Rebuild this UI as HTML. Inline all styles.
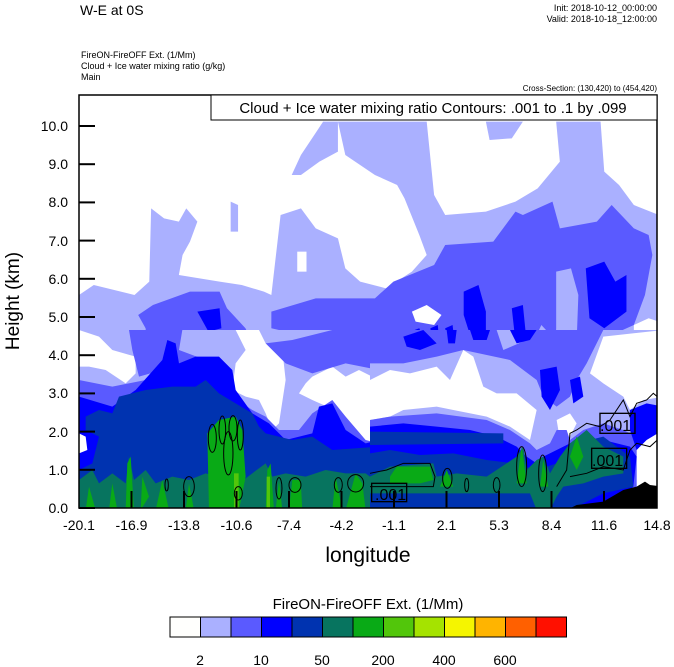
<!DOCTYPE html>
<html><head><meta charset="utf-8"><style>
body{margin:0;background:#fff;}
svg{display:block;font-family:"Liberation Sans",sans-serif;}
</style></head><body>
<svg width="674" height="667" viewBox="0 0 674 667">
<defs><clipPath id="pc"><rect x="79" y="95" width="578" height="413"/></clipPath>
<clipPath id="up"><rect x="79" y="95" width="578" height="236"/></clipPath></defs>
<rect width="674" height="667" fill="#fff"/>
<g clip-path="url(#pc)">
<g clip-path="url(#up)">
<g transform="translate(79,95) scale(0.3699,0.3333)">
<polygon fill="#aab0ff" points="0,600 40,570 150,600 190,560 195,340 230,370 270,380 290,340 320,380 300,440 280,480 270,540 380,560 440,570 500,590 520,600 545,360 600,340 640,400 700,430 720,520 760,560 830,580 900,530 940,480 920,420 880,310 860,270 800,240 720,180 700,80 940,80 960,300 990,360 1100,350 1180,320 1240,280 1300,200 1290,80 1410,80 1420,230 1460,270 1500,330 1568,360 1568,900 0,900"/>
<polygon fill="#aab0ff" points="575,240 600,180 630,130 660,80 700,80 700,170 650,200 600,240"/>
<polygon fill="#aab0ff" points="1100,80 1200,80 1170,130 1110,135"/>
<polygon fill="#aab0ff" points="410,320 430,330 430,410 410,410"/>
<polygon fill="#fff" points="590,470 615,470 615,530 590,530"/>
<polygon fill="#5a5aff" points="160,660 200,630 300,590 380,590 400,640 450,700 490,790 480,850 440,900 170,900 190,800 180,700"/>
<polygon fill="#5a5aff" points="520,650 640,610 800,610 850,560 960,510 990,450 1120,440 1180,350 1200,360 1280,320 1300,400 1400,380 1440,330 1500,400 1540,420 1550,480 1530,600 1500,690 1440,720 1420,780 1380,800 1340,760 1300,750 1250,690 1220,760 1160,780 1120,840 1080,770 1040,760 980,770 900,790 800,800 700,780 640,730 520,700"/>
<polygon fill="#aab0ff" points="1290,530 1330,520 1350,600 1340,900 1280,900 1290,700"/>
<polygon fill="#fff" points="1500,690 1540,670 1568,680 1568,900 1500,900"/>
<polygon fill="#fff" points="900,650 940,630 980,660 960,690 910,680"/>
<g fill="#0000ff">
<polygon points="320,650 380,640 385,700 350,710"/>
<polygon points="1040,590 1080,570 1100,650 1100,720 1060,730 1040,660"/>
<polygon points="1170,640 1200,630 1210,740 1180,740"/>
<polygon points="1370,520 1420,500 1450,560 1480,540 1480,650 1420,700 1380,670"/>
<polygon points="870,720 920,700 940,760 880,770"/>
<polygon points="990,700 1010,690 1015,740 995,740"/>
<polygon points="950,700 970,690 975,760 955,760"/>
</g>
</g>
</g>
<!-- lower left -->
<g transform="translate(79,330) scale(0.3333)">
<rect x="0" y="0" width="880" height="540" fill="#aab0ff"/>
<g fill="#fff">
<polygon points="0,0 60,20 100,60 170,80 170,130 140,160 80,120 30,110 0,110"/>
<polygon points="470,0 540,0 560,40 610,60 620,150 600,280 580,300 560,250 540,210 500,200 460,180 470,100 500,60"/>
<polygon points="700,140 760,110 800,140 840,120 900,150 900,340 840,330 790,250 700,210 660,190 680,160"/>
</g>
<polygon fill="#5a5aff" points="560,40 640,30 760,0 900,0 900,120 800,100 700,130 620,100"/>
<polygon fill="#5a5aff" points="150,0 310,0 300,60 250,120 180,140 160,60"/>
<polygon fill="#5a5aff" points="0,150 100,170 200,150 250,120 260,40 300,60 380,90 440,140 460,200 520,240 560,260 600,300 660,300 700,250 760,210 800,260 860,330 900,340 900,540 0,540"/>
<polygon fill="#0000ff" points="0,200 100,230 170,180 250,90 265,30 290,40 300,100 350,80 420,80 460,120 470,180 520,250 570,280 620,330 700,310 720,230 760,220 800,300 860,340 900,330 900,540 0,540"/>
<polygon fill="#0033b0" points="20,260 60,240 100,250 120,200 200,180 280,170 350,170 380,150 420,190 470,220 520,250 540,290 560,310 640,330 700,320 760,360 900,350 900,540 0,540 0,420 40,400 60,320 20,300"/>
<polygon fill="#fff" points="0,310 20,320 25,360 0,370"/>
<polygon fill="#07745f" points="0,450 40,420 60,460 100,430 140,460 150,380 165,450 200,420 230,460 280,440 330,450 380,430 420,440 460,420 480,460 520,430 560,400 580,440 620,430 680,440 740,420 800,430 860,430 900,460 900,540 0,540"/>
<g fill="#09aa16">
<polygon points="140,540 145,400 155,380 165,540"/>
<polygon points="185,540 190,440 210,500"/>
<polygon points="230,540 250,450 270,540"/>
<polygon points="320,540 330,460 345,540"/>
<polygon points="390,540 385,310 420,270 470,260 490,300 500,440 480,540"/>
<polygon points="560,540 565,420 575,400 585,540"/>
<polygon points="590,540 600,450 610,540"/>
<polygon points="630,540 640,450 665,450 670,540"/>
<polygon points="760,540 770,440 790,540"/>
<polygon points="800,540 830,430 850,460 860,540"/>
<polygon points="20,540 30,470 50,540"/>
<polygon points="90,540 100,460 115,540"/>
</g>
<rect x="465" y="430" width="14" height="110" fill="#52c60b"/>
<rect x="563" y="440" width="10" height="100" fill="#52c60b"/>
<g fill="none" stroke="#000" stroke-width="3">
<ellipse cx="400" cy="325" rx="12" ry="42"/><ellipse cx="430" cy="300" rx="10" ry="42"/><ellipse cx="462" cy="295" rx="12" ry="38"/><ellipse cx="484" cy="315" rx="9" ry="45"/><ellipse cx="448" cy="370" rx="14" ry="65"/>
<ellipse cx="330" cy="470" rx="16" ry="30"/><ellipse cx="263" cy="465" rx="5" ry="18"/><ellipse cx="600" cy="475" rx="9" ry="32"/><ellipse cx="648" cy="465" rx="18" ry="22"/><ellipse cx="778" cy="465" rx="12" ry="22"/><ellipse cx="830" cy="460" rx="24" ry="26"/><ellipse cx="478" cy="490" rx="12" ry="20"/>
</g>
</g>
<!-- lower right -->
<g transform="translate(370,330) scale(0.3333)">
<rect x="0" y="0" width="880" height="540" fill="#aab0ff"/>
<polygon fill="#5a5aff" points="0,0 380,0 400,60 470,30 500,0 700,0 650,100 620,150 600,200 560,230 520,200 500,150 420,90 280,60 200,80 100,100 0,100"/>
<g fill="#0000ff">
<polygon points="100,20 160,0 200,40 150,60 110,50"/>
<polygon points="230,0 260,0 255,40 235,40"/>
<polygon points="300,0 360,0 350,30 310,30"/>
<polygon points="420,0 500,0 480,30 440,40"/>
<polygon points="510,120 560,110 570,180 540,240 515,200"/>
<polygon points="600,150 630,140 640,200 610,220"/>
</g>
<g fill="#fff">
<polygon points="0,150 60,120 120,130 200,110 240,150 280,60 310,80 340,170 380,190 440,190 500,240 480,330 420,290 350,260 250,240 200,230 100,240 60,260 0,270"/>
<polygon points="700,20 880,0 880,200 820,210 780,240 760,200 700,160 660,130"/>
<polygon points="800,300 840,280 880,300 880,480 820,460 800,470"/>
<polygon points="560,270 600,250 620,280 600,320 570,330"/>
</g>
<polygon fill="#5a5aff" points="0,270 60,260 200,250 350,270 420,300 480,340 500,360 540,340 560,300 590,300 600,330 640,300 700,280 760,300 800,320 800,470 760,540 0,540"/>
<polygon fill="#0000ff" points="780,240 830,220 880,230 880,300 830,330 800,360 780,300"/>
<polygon fill="#0000ff" points="0,290 100,280 200,290 300,300 380,320 440,350 470,380 500,400 520,380 560,360 600,340 620,330 700,330 780,350 800,380 790,470 760,500 700,540 0,540"/>
<polygon fill="#0033b0" points="0,305 400,310 400,340 0,345"/>
<polygon fill="#0033b0" points="0,370 60,360 150,375 250,370 350,390 430,400 500,420 560,400 600,380 620,340 700,320 780,380 790,470 700,490 600,540 0,540"/>
<polygon fill="#07745f" points="0,440 60,410 190,400 200,440 260,430 350,440 440,380 460,350 470,420 500,390 520,380 540,430 570,380 600,340 650,300 700,350 760,380 760,430 700,440 640,460 580,470 560,500 540,540 500,540 480,490 300,490 0,490"/>
<g fill="#09aa16">
<polygon points="60,440 80,410 180,410 190,450 150,460 60,460"/>
<polygon points="210,470 230,420 250,470"/>
<polygon points="440,460 455,350 470,460"/>
<polygon points="510,470 520,390 535,470"/>
<polygon points="600,380 620,320 640,380 620,420"/>
</g>
<polygon fill="#000" points="590,540 620,525 700,515 760,480 800,470 825,455 840,465 880,470 880,540"/>
<g fill="none" stroke="#000" stroke-width="3">
<polyline points="0,430 50,420 100,400 180,400 195,440 190,470 0,470"/>
<ellipse cx="455" cy="410" rx="15" ry="60"/><ellipse cx="518" cy="430" rx="12" ry="55"/><ellipse cx="380" cy="465" rx="10" ry="22"/><ellipse cx="290" cy="465" rx="6" ry="20"/><ellipse cx="232" cy="445" rx="14" ry="30"/>
<polyline points="560,470 590,420 600,310 620,300 650,280 690,290 720,270 760,210 780,260 800,220 830,210 850,190 862,200"/>
<polyline points="600,440 650,430 700,410 760,420 780,360 800,340 840,350 862,330"/>
</g>
<g fill="#fff" stroke="#000" stroke-width="4" fill-opacity="0">
<rect x="5" y="460" width="105" height="55"/>
<rect x="690" y="250" width="105" height="60"/>
<rect x="665" y="355" width="105" height="60"/>
</g>
</g>
</g>
<text x="375" y="500" font-size="16" fill="#000">.001</text>
<text x="600" y="431" font-size="16" fill="#000">.001</text>
<text x="592" y="466" font-size="16" fill="#000">.001</text>
<!-- frame & ticks -->
<rect x="79" y="95" width="578" height="413" fill="none" stroke="#000" stroke-width="1.5"/>
<g stroke="#000" stroke-width="2">
<line x1="79" y1="508" x2="95" y2="508"/><line x1="79" y1="469.8" x2="95" y2="469.8"/><line x1="79" y1="431.6" x2="95" y2="431.6"/><line x1="79" y1="393.4" x2="95" y2="393.4"/><line x1="79" y1="355.2" x2="95" y2="355.2"/><line x1="79" y1="317" x2="95" y2="317"/><line x1="79" y1="278.8" x2="95" y2="278.8"/><line x1="79" y1="240.6" x2="95" y2="240.6"/><line x1="79" y1="202.4" x2="95" y2="202.4"/><line x1="79" y1="164.2" x2="95" y2="164.2"/><line x1="79" y1="126" x2="95" y2="126"/>
<line x1="131.5" y1="508" x2="131.5" y2="491"/><line x1="184" y1="508" x2="184" y2="491"/><line x1="236.5" y1="508" x2="236.5" y2="491"/><line x1="289" y1="508" x2="289" y2="491"/><line x1="341.5" y1="508" x2="341.5" y2="491"/><line x1="394" y1="508" x2="394" y2="491"/><line x1="446.5" y1="508" x2="446.5" y2="491"/><line x1="499" y1="508" x2="499" y2="491"/><line x1="551.5" y1="508" x2="551.5" y2="491"/><line x1="604" y1="508" x2="604" y2="491"/>
</g>
<g font-size="14" text-anchor="end" fill="#000">
<text x="68" y="513">0.0</text><text x="68" y="475">1.0</text><text x="68" y="437">2.0</text><text x="68" y="398">3.0</text><text x="68" y="360">4.0</text><text x="68" y="322">5.0</text><text x="68" y="284">6.0</text><text x="68" y="246">7.0</text><text x="68" y="207">8.0</text><text x="68" y="169">9.0</text><text x="68" y="131">10.0</text>
</g>
<g font-size="14" text-anchor="middle" fill="#000">
<text x="79" y="530">-20.1</text><text x="131.5" y="530">-16.9</text><text x="184" y="530">-13.8</text><text x="236.5" y="530">-10.6</text><text x="289" y="530">-7.4</text><text x="341.5" y="530">-4.2</text><text x="394" y="530">-1.1</text><text x="446.5" y="530">2.1</text><text x="499" y="530">5.3</text><text x="551.5" y="530">8.4</text><text x="604" y="530">11.6</text><text x="657" y="530">14.8</text>
</g>
<text x="368" y="562" font-size="21" text-anchor="middle">longitude</text>
<text transform="translate(19,301) rotate(-90)" font-size="19" text-anchor="middle">Height (km)</text>
<!-- titles -->
<text x="80" y="15" font-size="14">W-E at 0S</text>
<text x="657" y="11" font-size="9" text-anchor="end">Init: 2018-10-12_00:00:00</text>
<text x="657" y="22" font-size="9" text-anchor="end">Valid: 2018-10-18_12:00:00</text>
<text x="81" y="58" font-size="9">FireON-FireOFF Ext.   (1/Mm)</text>
<text x="81" y="69" font-size="9">Cloud + Ice water mixing ratio   (g/kg)</text>
<text x="81" y="80" font-size="9">Main</text>
<text x="657" y="91" font-size="8" text-anchor="end">Cross-Section: (130,420) to (454,420)</text>
<rect x="211" y="95" width="446" height="25" fill="#fff" stroke="#000" stroke-width="1"/>
<text x="433" y="113" font-size="15" text-anchor="middle">Cloud + Ice water mixing ratio Contours: .001 to .1 by .099</text>
<!-- colorbar -->
<text x="368" y="609" font-size="15" text-anchor="middle">FireON-FireOFF Ext.  (1/Mm)</text>
<g stroke="#000" stroke-width="1">
<rect x="170" y="617" width="30.5" height="20" fill="#fffffd"/>
<rect x="200.5" y="617" width="30.5" height="20" fill="#aab0ff"/>
<rect x="231" y="617" width="30.5" height="20" fill="#5a5aff"/>
<rect x="261.5" y="617" width="30.5" height="20" fill="#0000ff"/>
<rect x="292" y="617" width="30.5" height="20" fill="#0033b0"/>
<rect x="322.5" y="617" width="30.5" height="20" fill="#07745f"/>
<rect x="353" y="617" width="30.5" height="20" fill="#09aa16"/>
<rect x="383.5" y="617" width="30.5" height="20" fill="#52c60b"/>
<rect x="414" y="617" width="30.5" height="20" fill="#a5e300"/>
<rect x="444.5" y="617" width="30.5" height="20" fill="#f5f500"/>
<rect x="475" y="617" width="30.5" height="20" fill="#ffb400"/>
<rect x="505.5" y="617" width="30.5" height="20" fill="#ff6000"/>
<rect x="536" y="617" width="30.5" height="20" fill="#ff1000"/>
</g>
<g font-size="14" text-anchor="middle">
<text x="200" y="665">2</text><text x="261" y="665">10</text><text x="322" y="665">50</text><text x="383" y="665">200</text><text x="444" y="665">400</text><text x="505" y="665">600</text>
</g>
</svg>
</body></html>
